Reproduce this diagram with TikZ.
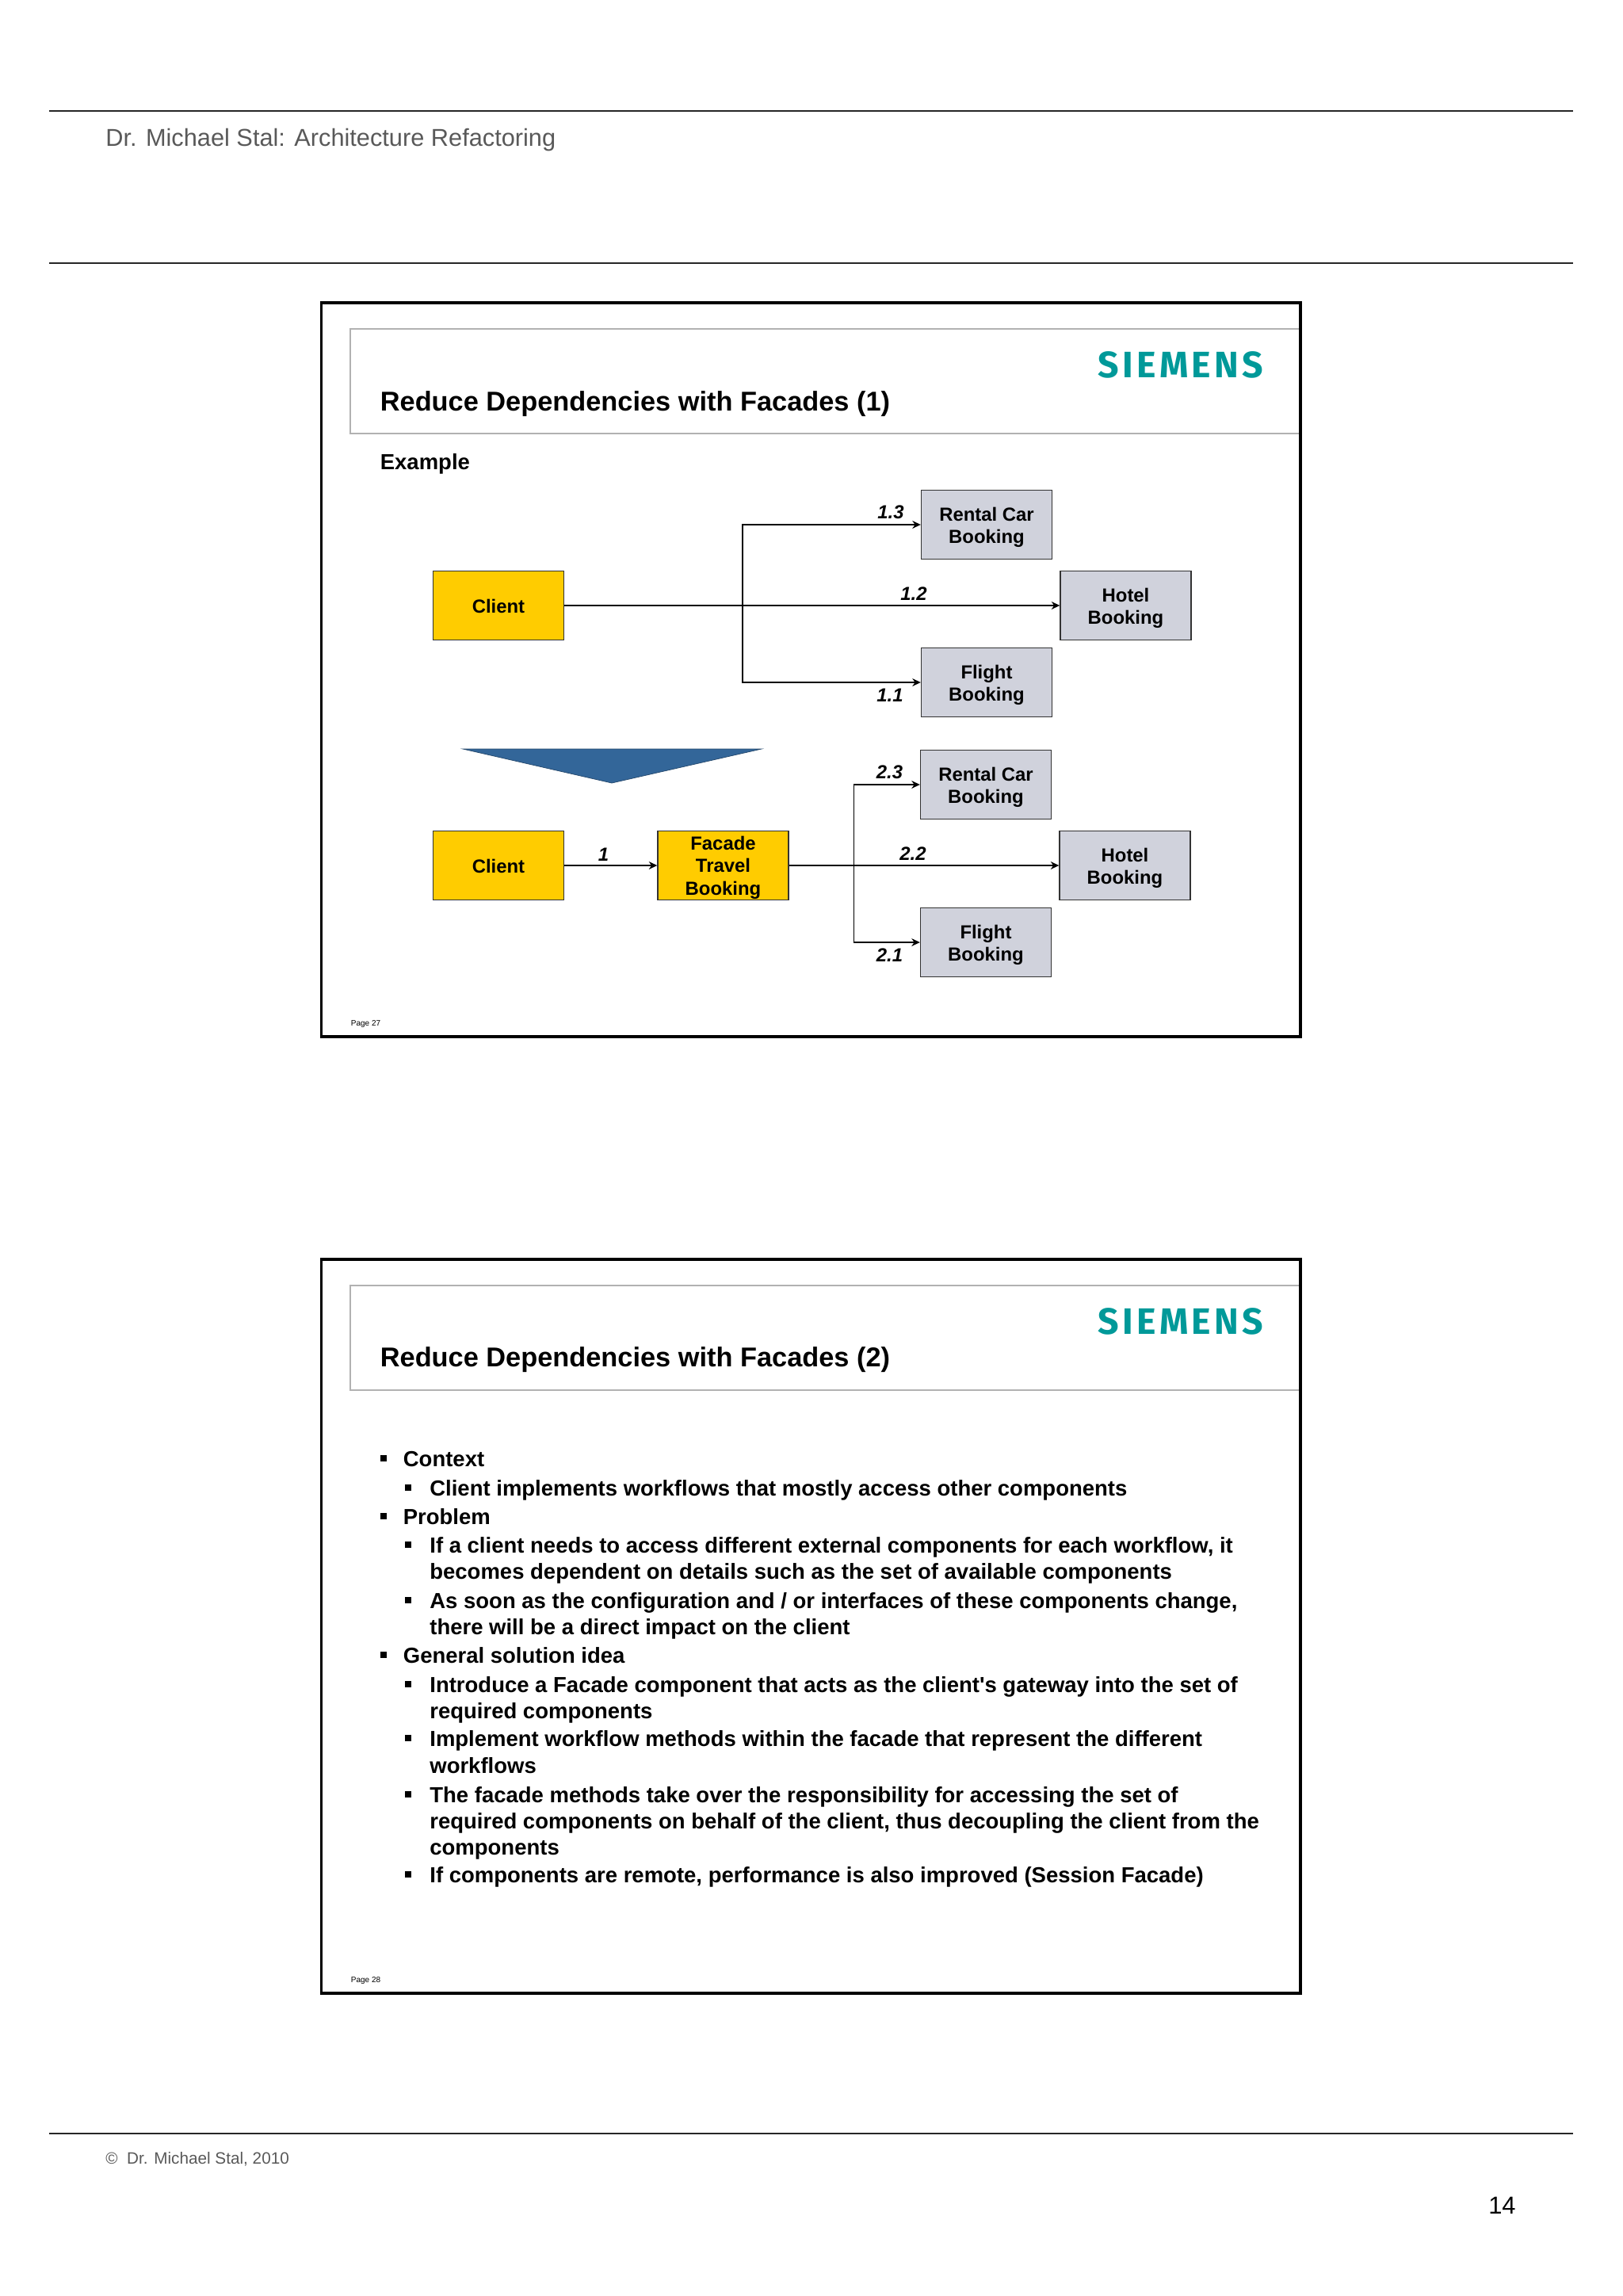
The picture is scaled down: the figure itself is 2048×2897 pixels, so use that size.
\documentclass[tikz,border=0pt]{standalone}
\usepackage{fontspec}
\setmainfont{Liberation Sans}
\newfontfamily\logofont[LetterSpace=9]{Fira Sans}
\usetikzlibrary{arrows.meta}
\definecolor{slideyellow}{RGB}{255,204,0}
\definecolor{slidegray}{RGB}{208,210,220}
\definecolor{slideblue}{RGB}{51,102,153}
\definecolor{siemensteal}{RGB}{0,153,153}
\definecolor{headgray}{RGB}{89,89,89}
\tikzset{
	pagerule/.style={draw=black!85, line width=0.9pt},
	slideframe/.style={draw=black, line width=1.9pt},
	titlebox/.style={draw=black!30, line width=1.1pt},
	slidetitle/.style={anchor=base west, inner sep=0pt, font=\fontsize{19.55pt}{24pt}\bfseries},
	logo/.style={anchor=base east, inner sep=0pt, text=siemensteal, font=\logofont\fontsize{26.4pt}{27pt}\bfseries},
	bodytext/.style={anchor=base west, inner sep=0pt, font=\fontsize{15.65pt}{18pt}\bfseries},
	bulletmark/.style={fill=black, minimum size=4.6pt, inner sep=0pt},
	component/.style={draw=black!80, line width=0.7pt, minimum width=94pt, minimum height=49.8pt, inner sep=0pt, align=center, font=\fontsize{13.6pt}{16.4pt}\bfseries},
	actor/.style={component, fill=slideyellow},
	service/.style={component, fill=slidegray, text height=30pt},
	seqlabel/.style={inner sep=0pt, font=\fontsize{13.6pt}{15pt}\bfseries\itshape},
	flow/.style={->, line width=0.8pt},
	trunk/.style={line width=1.3pt},
	pagelabel/.style={anchor=base west, inner sep=0pt, font=\fontsize{5.7pt}{6pt}\selectfont}
}
\begin{document}
\begin{tikzpicture}[x=0.02cm, y=-0.02cm, >={Stealth[length=6pt, width=5.6pt]}]
	\useasboundingbox (0,0) rectangle (2048,2897);
	% page furniture
	\coordinate (topleft) at (62,140);
	\coordinate (topright) at (1985,140);
	\coordinate (headleft) at (62,332);
	\coordinate (headright) at (1985,332);
	\coordinate (footleft) at (62,2692);
	\coordinate (footright) at (1985,2692);
	\draw[pagerule] (topleft) -- (topright);
	\draw[pagerule] (headleft) -- (headright);
	\draw[pagerule] (footleft) -- (footright);
	\node[anchor=base west, inner sep=0pt, text=headgray, font=\fontsize{17.5pt}{20pt}\selectfont] (pagehead) at (133,184) {Dr. Michael Stal: Architecture Refactoring};
	\node[anchor=base west, inner sep=0pt, text=headgray, font=\fontsize{11.8pt}{14pt}\selectfont] (pagefoot) at (133,2730) {©\ \ Dr. Michael Stal, 2010};
	\node[anchor=base east, inner sep=0pt, font=\fontsize{17.6pt}{20pt}\selectfont] (pagenum) at (1913,2793) {14};

	% first slide
	\draw[titlebox] (1641,415) -- (442,415) -- (442,547) -- (1641,547);
	\draw[slideframe] (405.5,382) rectangle (1641,1308);
	\node[logo] (logoa) at (1594,476) {SIEMENS};
	\node[slidetitle] (titlea) at (479.5,518) {Reduce Dependencies with Facades (1)};
	\node[bodytext] (example) at (479.5,592) {Example};
	\node[actor, text height=11pt] (clienta) at (629,764) {Client};
	\node[service] (rentala) at (1245,662) {Rental Car\\Booking};
	\node[service] (hotela) at (1420.5,764) {Hotel\\Booking};
	\node[service] (flighta) at (1245,861) {Flight\\Booking};
	\coordinate (brancha) at (937,764);
	\draw[trunk] (clienta.east) -- (brancha);
	\draw[flow] (brancha) |- (rentala.west);
	\draw[flow] (brancha) -- (hotela.west);
	\draw[flow] (brancha) |- (flighta.west);
	\node[seqlabel] (laba) at (1124,646) {1.3};
	\node[seqlabel] (labb) at (1153,749) {1.2};
	\node[seqlabel] (labc) at (1123,877) {1.1};
	\node[pagelabel] (pagea) at (442.5,1294) {Page 27};

	% the refactoring arrow
	\fill[slideblue, draw=slideblue!70!black, line width=0.4pt] (584,945) -- (961,945) -- (772,988) -- cycle;

	% second picture of the first slide
	\node[actor, text height=11pt] (clientb) at (629,1092) {Client};
	\node[actor, text height=45.9pt] (facade) at (912.5,1092) {Facade\\Travel\\Booking};
	\node[service] (rentalb) at (1244,990) {Rental Car\\Booking};
	\node[service] (hotelb) at (1419.5,1092) {Hotel\\Booking};
	\node[service] (flightb) at (1244,1189) {Flight\\Booking};
	\coordinate (branchb) at (1077.5,1092);
	\draw[flow] (clientb.east) -- (facade.west);
	\draw[trunk] (facade.east) -- (branchb);
	\draw[flow] (branchb) |- (rentalb.west);
	\draw[flow] (branchb) -- (hotelb.west);
	\draw[flow] (branchb) |- (flightb.west);
	\node[seqlabel] (labd) at (761.5,1078) {1};
	\node[seqlabel] (labe) at (1122.5,974) {2.3};
	\node[seqlabel] (labf) at (1152,1077) {2.2};
	\node[seqlabel] (labg) at (1122.5,1205) {2.1};

	% second slide
	\draw[titlebox] (1641,1622) -- (442,1622) -- (442,1754) -- (1641,1754);
	\draw[slideframe] (405.5,1589) rectangle (1641,2515);
	\node[logo] (logob) at (1594,1683) {SIEMENS};
	\node[slidetitle] (titleb) at (479.5,1724) {Reduce Dependencies with Facades (2)};
	\foreach \n/\yy/\txt in {
		a/1850/Context,
		c/1923/Problem,
		h/2098/General solution idea}
	{
		\node[bodytext] (line\n) at (508.5,\yy) {\txt};
		\node[bulletmark] (mark\n) at (484,\yy-10) {};
	}
	\foreach \n/\yy/\txt in {
		b/1887/Client implements workflows that mostly access other components,
		d/1959/{If a client needs to access different external components for each workflow, it},
		f/2029/{As soon as the configuration and / or interfaces of these components change,},
		i/2135/Introduce a Facade component that acts as the client\textquotesingle s gateway into the set of,
		k/2203/Implement workflow methods within the facade that represent the different,
		m/2274/The facade methods take over the responsibility for accessing the set of,
		p/2375/{If components are remote, performance is also improved (Session Facade)}}
	{
		\node[bodytext] (line\n) at (542,\yy) {\txt};
		\node[bulletmark] (mark\n) at (515,\yy-10) {};
	}
	\foreach \n/\yy/\txt in {
		e/1992/becomes dependent on details such as the set of available components,
		g/2062/there will be a direct impact on the client,
		j/2168/required components,
		l/2237/workflows,
		n/2307/{required components on behalf of the client, thus decoupling the client from the},
		o/2340/components}
		\node[bodytext] (line\n) at (542,\yy) {\txt};
	\node[pagelabel] (pageb) at (442.5,2501) {Page 28};
\end{tikzpicture}
\end{document}
